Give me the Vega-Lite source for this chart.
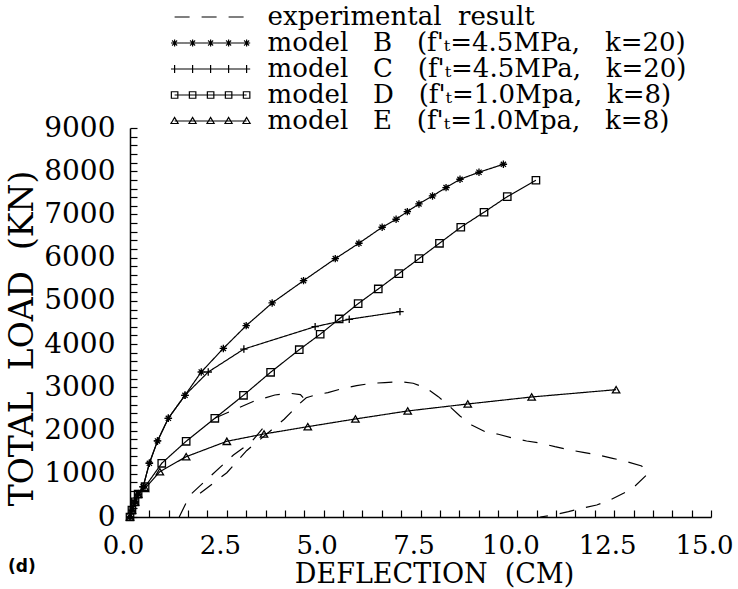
{
  "$schema": "https://vega.github.io/schema/vega-lite/v6.json",
  "width": 581,
  "height": 389,
  "autosize": {"type": "none"},
  "padding": {"left": 130, "top": 128, "right": 27, "bottom": 72},
  "background": "white",
  "view": {"stroke": null},
  "title": {"text": "(d)", "orient": "bottom", "anchor": "start", "frame": "group", "font": "DejaVu Sans", "fontSize": 17, "fontWeight": "bold", "color": "black", "dx": -122, "dy": -28, "offset": 0},
  "config": {
    "axis": {"grid": false, "domainColor": "black", "domainWidth": 1.5, "tickColor": "black", "tickWidth": 1.2, "tickSize": -7, "labelPadding": 22, "labelFont": "DejaVu Serif", "labelFontSize": 28, "labelColor": "black", "labelOverlap": false, "labelFlush": false, "titleFont": "DejaVu Serif", "titleColor": "black", "titleFontWeight": "normal"}
  },
  "data": {"values": [
    {"s":"B","g":"B","i":0,"x":0,"y":0},{"s":"B","g":"B","i":1,"x":0.05,"y":160},{"s":"B","g":"B","i":2,"x":0.13,"y":350},{"s":"B","g":"B","i":3,"x":0.21,"y":530},{"s":"B","g":"B","i":4,"x":0.34,"y":700},{"s":"B","g":"B","i":5,"x":0.5,"y":1243},{"s":"B","g":"B","i":6,"x":0.71,"y":1759},{"s":"B","g":"B","i":7,"x":0.99,"y":2284},{"s":"B","g":"B","i":8,"x":1.42,"y":2816},{"s":"B","g":"B","i":9,"x":1.84,"y":3355},{"s":"B","g":"B","i":10,"x":2.41,"y":3900},{"s":"B","g":"B","i":11,"x":3.0,"y":4427},{"s":"B","g":"B","i":12,"x":3.67,"y":4952},{"s":"B","g":"B","i":13,"x":4.48,"y":5468},{"s":"B","g":"B","i":14,"x":5.3,"y":5977},{"s":"B","g":"B","i":15,"x":5.91,"y":6333},{"s":"B","g":"B","i":16,"x":6.51,"y":6704},{"s":"B","g":"B","i":17,"x":6.87,"y":6889},{"s":"B","g":"B","i":18,"x":7.16,"y":7065},{"s":"B","g":"B","i":19,"x":7.46,"y":7243},{"s":"B","g":"B","i":20,"x":7.81,"y":7428},{"s":"B","g":"B","i":21,"x":8.16,"y":7620},{"s":"B","g":"B","i":22,"x":8.52,"y":7814},{"s":"B","g":"B","i":23,"x":9.01,"y":7976},{"s":"B","g":"B","i":24,"x":9.64,"y":8161},
    {"s":"C","g":"C","i":0,"x":0,"y":0},{"s":"C","g":"C","i":1,"x":0.05,"y":160},{"s":"C","g":"C","i":2,"x":0.13,"y":350},{"s":"C","g":"C","i":3,"x":0.21,"y":530},{"s":"C","g":"C","i":4,"x":0.34,"y":700},{"s":"C","g":"C","i":5,"x":0.5,"y":1243},{"s":"C","g":"C","i":6,"x":0.71,"y":1759},{"s":"C","g":"C","i":7,"x":0.99,"y":2284},{"s":"C","g":"C","i":8,"x":1.42,"y":2816},{"s":"C","g":"C","i":9,"x":2.02,"y":3355},{"s":"C","g":"C","i":10,"x":2.94,"y":3885},{"s":"C","g":"C","i":11,"x":4.78,"y":4404},{"s":"C","g":"C","i":12,"x":5.66,"y":4574},{"s":"C","g":"C","i":13,"x":6.97,"y":4751},
    {"s":"D","g":"D","i":0,"x":0,"y":0},{"s":"D","g":"D","i":1,"x":0.05,"y":160},{"s":"D","g":"D","i":2,"x":0.13,"y":350},{"s":"D","g":"D","i":3,"x":0.21,"y":530},{"s":"D","g":"D","i":4,"x":0.39,"y":701},{"s":"D","g":"D","i":5,"x":0.82,"y":1243},{"s":"D","g":"D","i":6,"x":1.45,"y":1752},{"s":"D","g":"D","i":7,"x":2.19,"y":2284},{"s":"D","g":"D","i":8,"x":2.93,"y":2816},{"s":"D","g":"D","i":9,"x":3.63,"y":3348},{"s":"D","g":"D","i":10,"x":4.37,"y":3871},{"s":"D","g":"D","i":11,"x":4.91,"y":4228},{"s":"D","g":"D","i":12,"x":5.4,"y":4582},{"s":"D","g":"D","i":13,"x":5.89,"y":4936},{"s":"D","g":"D","i":14,"x":6.41,"y":5276},{"s":"D","g":"D","i":15,"x":6.94,"y":5630},{"s":"D","g":"D","i":16,"x":7.46,"y":5977},{"s":"D","g":"D","i":17,"x":7.99,"y":6333},{"s":"D","g":"D","i":18,"x":8.54,"y":6704},{"s":"D","g":"D","i":19,"x":9.14,"y":7051},{"s":"D","g":"D","i":20,"x":9.74,"y":7412},{"s":"D","g":"D","i":21,"x":10.48,"y":7791},
    {"s":"E","g":"E","i":0,"x":0,"y":0},{"s":"E","g":"E","i":1,"x":0.05,"y":160},{"s":"E","g":"E","i":2,"x":0.13,"y":350},{"s":"E","g":"E","i":3,"x":0.21,"y":530},{"s":"E","g":"E","i":4,"x":0.39,"y":664},{"s":"E","g":"E","i":5,"x":0.77,"y":1048},{"s":"E","g":"E","i":6,"x":1.45,"y":1395},{"s":"E","g":"E","i":7,"x":2.5,"y":1752},{"s":"E","g":"E","i":8,"x":3.46,"y":1921},{"s":"E","g":"E","i":9,"x":4.59,"y":2090},{"s":"E","g":"E","i":10,"x":5.82,"y":2268},{"s":"E","g":"E","i":11,"x":7.17,"y":2453},{"s":"E","g":"E","i":12,"x":8.72,"y":2615},{"s":"E","g":"E","i":13,"x":10.37,"y":2777},{"s":"E","g":"E","i":14,"x":12.55,"y":2946},
    {"s":"exp","g":"e1","i":0,"x":2.2,"y":2290},{"s":"exp","g":"e1","i":1,"x":2.67,"y":2476},{"s":"exp","g":"e1","i":2,"x":3.2,"y":2680},{"s":"exp","g":"e1","i":3,"x":3.74,"y":2823},{"s":"exp","g":"e1","i":4,"x":4.13,"y":2862},{"s":"exp","g":"e1","i":5,"x":4.4,"y":2830},{"s":"exp","g":"e1","i":6,"x":4.47,"y":2760},
    {"s":"exp","g":"e2","i":0,"x":1.27,"y":0},{"s":"exp","g":"e2","i":1,"x":1.55,"y":509},{"s":"exp","g":"e2","i":2,"x":2.11,"y":972},{"s":"exp","g":"e2","i":3,"x":2.67,"y":1435},{"s":"exp","g":"e2","i":4,"x":3.14,"y":1742},{"s":"exp","g":"e2","i":5,"x":3.61,"y":2245},
    {"s":"exp","g":"e3","i":0,"x":1.81,"y":548},{"s":"exp","g":"e3","i":1,"x":2.5,"y":1025},{"s":"exp","g":"e3","i":2,"x":3.01,"y":1534},{"s":"exp","g":"e3","i":3,"x":3.63,"y":1997},{"s":"exp","g":"e3","i":4,"x":3.98,"y":2261},{"s":"exp","g":"e3","i":5,"x":4.39,"y":2631},{"s":"exp","g":"e3","i":6,"x":4.55,"y":2760},{"s":"exp","g":"e3","i":7,"x":4.78,"y":2823},{"s":"exp","g":"e3","i":8,"x":5.11,"y":2877},{"s":"exp","g":"e3","i":9,"x":5.51,"y":2978},{"s":"exp","g":"e3","i":10,"x":5.85,"y":3038},{"s":"exp","g":"e3","i":11,"x":6.24,"y":3094},{"s":"exp","g":"e3","i":12,"x":6.58,"y":3108},{"s":"exp","g":"e3","i":13,"x":6.97,"y":3131},{"s":"exp","g":"e3","i":14,"x":7.31,"y":3094},{"s":"exp","g":"e3","i":15,"x":7.66,"y":2978},{"s":"exp","g":"e3","i":16,"x":7.96,"y":2784},{"s":"exp","g":"e3","i":17,"x":8.26,"y":2552},{"s":"exp","g":"e3","i":18,"x":8.52,"y":2337},{"s":"exp","g":"e3","i":19,"x":8.82,"y":2129},{"s":"exp","g":"e3","i":20,"x":9.17,"y":1974},{"s":"exp","g":"e3","i":21,"x":9.51,"y":1914},{"s":"exp","g":"e3","i":22,"x":9.9,"y":1821},{"s":"exp","g":"e3","i":23,"x":10.24,"y":1759},{"s":"exp","g":"e3","i":24,"x":10.63,"y":1705},{"s":"exp","g":"e3","i":25,"x":10.97,"y":1627},{"s":"exp","g":"e3","i":26,"x":11.36,"y":1550},{"s":"exp","g":"e3","i":27,"x":11.7,"y":1497},{"s":"exp","g":"e3","i":28,"x":12.09,"y":1435},{"s":"exp","g":"e3","i":29,"x":12.46,"y":1358},{"s":"exp","g":"e3","i":30,"x":12.83,"y":1280},{"s":"exp","g":"e3","i":31,"x":13.21,"y":1180},{"s":"exp","g":"e3","i":32,"x":13.38,"y":1011},{"s":"exp","g":"e3","i":33,"x":13.04,"y":717},{"s":"exp","g":"e3","i":34,"x":12.74,"y":548},{"s":"exp","g":"e3","i":35,"x":12.39,"y":393},{"s":"exp","g":"e3","i":36,"x":12.05,"y":278},{"s":"exp","g":"e3","i":37,"x":11.66,"y":201},{"s":"exp","g":"e3","i":38,"x":11.32,"y":123},{"s":"exp","g":"e3","i":39,"x":10.93,"y":46},{"s":"exp","g":"e3","i":40,"x":10.59,"y":0}
  ]},
  "encoding": {
    "x": {"field": "x", "type": "quantitative", "scale": {"domain": [0, 15], "nice": false},
      "axis": {"values": [0,0.5,1,1.5,2,2.5,3,3.5,4,4.5,5,5.5,6,6.5,7,7.5,8,8.5,9,9.5,10,10.5,11,11.5,12,12.5,13,13.5,14,14.5,15], "format": ".1f", "labelExpr": "datum.value % 2.5 === 0 ? datum.label : ''", "labelOffset": -7, "labelFontSize": 26, "title": "DEFLECTION\u00a0\u00a0(CM)", "titleFontSize": 27, "titleX": 304, "titleY": 65, "titleBaseline": "alphabetic", "titleAlign": "center"}},
    "y": {"field": "y", "type": "quantitative", "scale": {"domain": [0, 9000], "nice": false},
      "axis": {"values": [0,200,400,600,800,1000,1200,1400,1600,1800,2000,2200,2400,2600,2800,3000,3200,3400,3600,3800,4000,4200,4400,4600,4800,5000,5200,5400,5600,5800,6000,6200,6400,6600,6800,7000,7200,7400,7600,7800,8000,8200,8400,8600,8800,9000], "format": "d", "labelExpr": "datum.value % 1000 === 0 ? datum.label : ''", "title": "TOTAL\u00a0\u00a0LOAD\u00a0\u00a0(KN)", "titleFontSize": 33, "titleX": -108, "titleY": 210, "titleBaseline": "middle", "titleAlign": "center", "titleAngle": -90}}
  },
  "layer": [
    {
      "mark": {"type": "line", "color": "black", "strokeWidth": 1.2},
      "encoding": {
        "detail": {"field": "g"},
        "order": {"field": "i", "type": "quantitative"},
        "strokeDash": {"field": "s", "type": "nominal",
          "scale": {"domain": ["exp", "B", "C", "D", "E"], "range": [[15, 12], [1, 0], [1, 0], [1, 0], [1, 0]]},
          "legend": {
            "title": null, "orient": "none", "legendX": 67.6, "legendY": -124, "padding": 0,
            "symbolSize": 324, "rowPadding": -2.5, "labelOffset": 44,
            "labelFont": "DejaVu Serif", "labelFontSize": 26, "labelColor": "black", "labelLimit": 700,
            "symbolStrokeColor": "black", "symbolStrokeWidth": 1.2,
            "labelExpr": "datum.value === 'exp' ? 'experimental\u00a0\u00a0result' : datum.value === 'B' ? 'model\u00a0\u00a0\u00a0B\u00a0\u00a0\u00a0(f\\'\u209c=4.5MPa,\u00a0\u00a0\u00a0k=20)' : datum.value === 'C' ? 'model\u00a0\u00a0\u00a0C\u00a0\u00a0\u00a0(f\\'\u209c=4.5MPa,\u00a0\u00a0\u00a0k=20)' : datum.value === 'D' ? 'model\u00a0\u00a0\u00a0D\u00a0\u00a0\u00a0(f\\'\u209c=1.0Mpa,\u00a0\u00a0\u00a0k=8)' : 'model\u00a0\u00a0\u00a0E\u00a0\u00a0\u00a0(f\\'\u209c=1.0Mpa,\u00a0\u00a0\u00a0k=8)'",
            "encode": {"symbols": {"update": {
              "size": {"value": 324},
              "fill": {"value": "transparent"},
              "stroke": {"value": "black"},
              "shape": {"signal": "datum.value === 'exp' ? 'M-4,0L4,0' : datum.value === 'B' ? 'M-4,0L4,0M-4.4,0L-3.6,0M-4,-0.4L-4,0.4M-4.28,-0.28L-3.72,0.28M-4.28,0.28L-3.72,-0.28M-2.4,0L-1.6,0M-2,-0.4L-2,0.4M-2.28,-0.28L-1.72,0.28M-2.28,0.28L-1.72,-0.28M-0.4,0L0.4,0M0,-0.4L0,0.4M-0.28,-0.28L0.28,0.28M-0.28,0.28L0.28,-0.28M1.6,0L2.4,0M2,-0.4L2,0.4M1.72,-0.28L2.28,0.28M1.72,0.28L2.28,-0.28M3.6,0L4.4,0M4,-0.4L4,0.4M3.72,-0.28L4.28,0.28M3.72,0.28L4.28,-0.28' : datum.value === 'C' ? 'M-4.4,0L4.4,0M-4,-0.44L-4,0.44M-2,-0.44L-2,0.44M0,-0.44L0,0.44M2,-0.44L2,0.44M4,-0.44L4,0.44' : datum.value === 'D' ? 'M-4,0L4,0M-4.36,-0.36L-3.64,-0.36L-3.64,0.36L-4.36,0.36ZM-2.36,-0.36L-1.64,-0.36L-1.64,0.36L-2.36,0.36ZM-0.36,-0.36L0.36,-0.36L0.36,0.36L-0.36,0.36ZM1.64,-0.36L2.36,-0.36L2.36,0.36L1.64,0.36ZM3.64,-0.36L4.36,-0.36L4.36,0.36L3.64,0.36Z' : 'M-4,0L4,0M-4,-0.4L-3.6,0.28L-4.4,0.28ZM-2,-0.4L-1.6,0.28L-2.4,0.28ZM0,-0.4L0.4,0.28L-0.4,0.28ZM2,-0.4L2.4,0.28L1.6,0.28ZM4,-0.4L4.4,0.28L3.6,0.28Z'"}
            }}}
          }
        }
      }
    },
    {
      "transform": [{"filter": "datum.s !== 'exp'"}],
      "mark": {"type": "point", "filled": false, "color": "black", "strokeWidth": 1.3, "size": 55, "opacity": 1},
      "encoding": {
        "shape": {"field": "s", "type": "nominal",
          "scale": {"domain": ["B", "C", "D", "E"], "range": ["M-1,0L1,0M0,-1L0,1M-0.7,-0.7L0.7,0.7M-0.7,0.7L0.7,-0.7", "M-1,0L1,0M0,-1L0,1", "square", "triangle-up"]},
          "legend": null}
      }
    }
  ]
}
